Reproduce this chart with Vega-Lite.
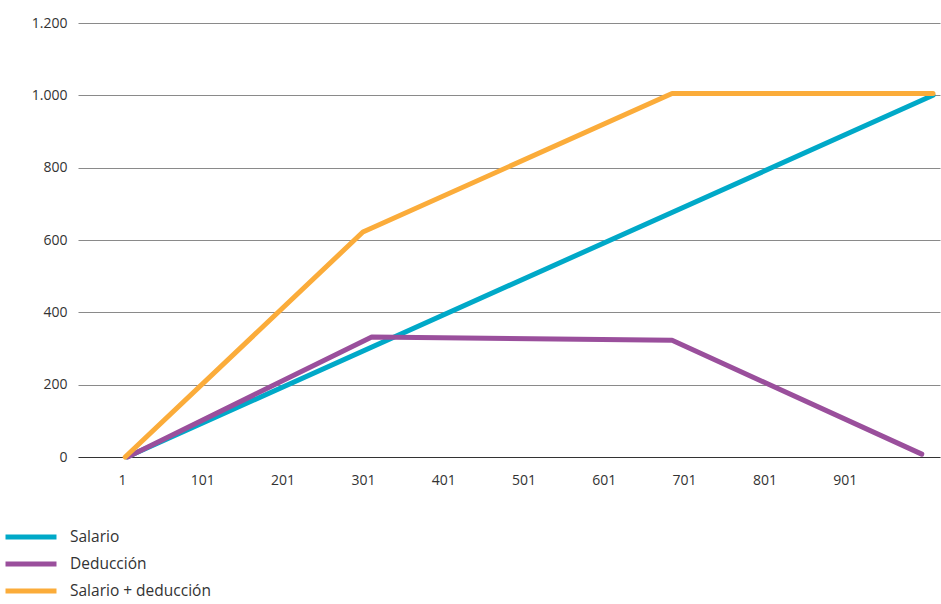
{
  "$schema": "https://vega.github.io/schema/vega-lite/v6.json",
  "width": 862,
  "height": 434,
  "autosize": {"type": "none"},
  "padding": {"left": 78, "top": 23, "right": 1, "bottom": 147},
  "background": "white",
  "config": {
    "view": {"stroke": null},
    "font": "Open Sans"
  },
  "data": {
    "values": [
      {"serie": "Salario", "x": 7, "y": 0},
      {"serie": "Salario", "x": 1011, "y": 1000},
      {"serie": "Deducción", "x": 8, "y": 0},
      {"serie": "Deducción", "x": 312, "y": 332},
      {"serie": "Deducción", "x": 686, "y": 323},
      {"serie": "Deducción", "x": 997, "y": 8},
      {"serie": "Salario + deducción", "x": 5, "y": 0},
      {"serie": "Salario + deducción", "x": 301, "y": 622},
      {"serie": "Salario + deducción", "x": 686, "y": 1005},
      {"serie": "Salario + deducción", "x": 1011, "y": 1005}
    ]
  },
  "mark": {"type": "line", "strokeWidth": 5, "strokeCap": "round", "strokeJoin": "round"},
  "encoding": {
    "x": {
      "field": "x",
      "type": "quantitative",
      "scale": {"domain": [-53.8, 1019.7], "nice": false, "zero": false},
      "axis": {
        "title": null,
        "values": [1, 101, 201, 301, 401, 501, 601, 701, 801, 901],
        "grid": false,
        "ticks": false,
        "domain": false,
        "labelPadding": 16,
        "labelFontSize": 14,
        "labelColor": "#333",
        "labelFlush": false
      }
    },
    "y": {
      "field": "y",
      "type": "quantitative",
      "scale": {"domain": [0, 1200], "nice": false},
      "axis": {
        "title": null,
        "values": [0, 200, 400, 600, 800, 1000, 1200],
        "labelExpr": "replace(format(datum.value, ','), ',', '.')",
        "ticks": false,
        "domain": false,
        "labelPadding": 11,
        "labelFontSize": 14,
        "labelColor": "#333",
        "gridColor": {"condition": {"test": "datum.value === 0", "value": "#333"}, "value": "#8a8a8a"},
        "gridWidth": 1.2
      }
    },
    "color": {
      "field": "serie",
      "type": "nominal",
      "sort": ["Salario", "Deducción", "Salario + deducción"],
      "scale": {
        "domain": ["Salario", "Deducción", "Salario + deducción"],
        "range": ["#00a9c8", "#9a4f9c", "#fbac3a"]
      },
      "legend": {
        "title": null,
        "orient": "none",
        "legendX": -55,
        "legendY": 506,
        "symbolType": "M-5,0H5",
        "symbolSize": 104,
        "symbolStrokeWidth": 5,
        "symbolFillColor": "transparent",
        "labelFontSize": 15.5,
        "labelColor": "#333",
        "labelOffset": 31,
        "rowPadding": 7,
        "labelLimit": 300
      }
    }
  }
}
